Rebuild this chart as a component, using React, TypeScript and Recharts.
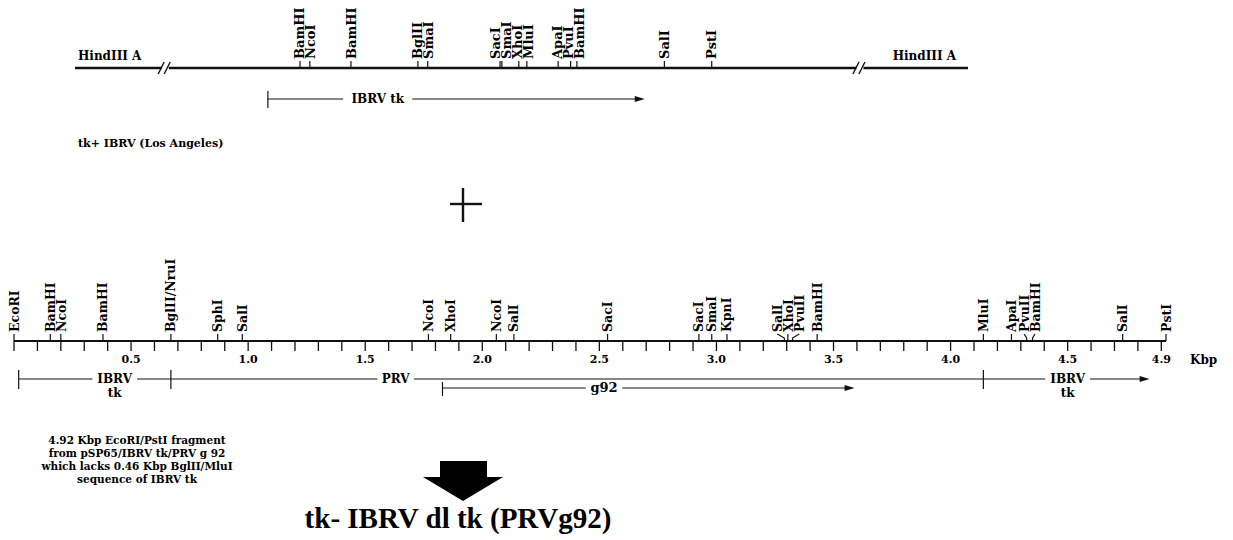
import React from 'react';
import { ComposedChart, XAxis, YAxis, Scatter, ReferenceLine, Customized } from 'recharts';

const W = 1233;
const H = 540;

// ---------------- data ----------------
// Top map: HindIII A fragment of tk+ IBRV (positions in % along the drawn fragment)
const TOP_SITE_NAMES = ['BamHI', 'NcoI', 'BamHI', 'BglII', 'SmaI', 'SacI', 'SmaI', 'XhoI', 'MluI', 'ApaI', 'PvuI', 'BamHI', 'SalI', 'PstI'];
const TOP_SITE_POS = [25.2, 26.3, 30.9, 38.4, 39.5, 47.6, 47.8, 49.7, 50.6, 54.1, 55.5, 56.2, 66.0, 71.3];
const TOP_FRAGMENT = [0, 100];
const TOP_BREAKS = [10.1, 87.9];
const TOP_END_LABEL = 'HindIII A';
const TOP_TK_SPAN = [21.6, 63.8];
const TOP_TK_LABEL = 'IBRV tk';
const TOP_TK_LABEL_AT = 33.9;

// Bottom map: 4.92 Kbp EcoRI/PstI fragment (positions in Kbp)
const BOT_SITE_NAMES = ['EcoRI', 'BamHI', 'NcoI', 'BamHI', 'BglII/NruI', 'SphI', 'SalI', 'NcoI', 'XhoI', 'NcoI', 'SalI', 'SacI', 'SacI', 'SmaI', 'KpnI', 'SalI', 'XhoI', 'PvuII', 'BamHI', 'MluI', 'ApaI', 'PvuII', 'BamHI', 'SalI', 'PstI'];
const BOT_SITE_KBP = [0.0, 0.155, 0.2, 0.38, 0.67, 0.87, 0.975, 1.77, 1.865, 2.06, 2.135, 2.535, 2.925, 2.98, 3.045, 3.29, 3.305, 3.325, 3.43, 4.14, 4.26, 4.325, 4.35, 4.735, 4.92];
const FRAGMENT_KBP = 4.92;
const AXIS_MINOR_COUNT = 50; // ticks every 0.1 Kbp from 0.0 to 4.9
const AXIS_LABELS = [0.5, 1.0, 1.5, 2.0, 2.5, 3.0, 3.5, 4.0, 4.5, 4.9];
const AXIS_UNIT = 'Kbp';

const FEATURE_NAMES = ['IBRV tk', 'PRV', 'IBRV tk', 'g92'];
const FEATURE_START = [0.02, 0.67, 4.14, 1.83];
const FEATURE_END = [0.67, 4.14, 4.85, 3.59];
const FEATURE_LABEL_AT = [0.43, 1.63, 4.5, 2.52];
const FEATURE_ARROW = [false, false, true, true];
const FEATURE_TRACK = [0, 0, 0, 1];

const PARENT_LABEL = 'tk+ IBRV (Los Angeles)';
const NOTE_LINES = ['4.92 Kbp EcoRI/PstI fragment', 'from pSP65/IBRV tk/PRV g 92', 'which lacks 0.46 Kbp BglII/MluI', 'sequence of IBRV tk'];
const RESULT_TITLE = 'tk- IBRV dl tk (PRVg92)';

// ---------------- layout ----------------
const SERIF = "'DejaVu Serif', serif";
const TITLE_SERIF = "'Liberation Serif', 'DejaVu Serif', serif";
const INK = '#111';
const TOP_LINE_Y = 68;
const TOP_TK_Y = 99;
const AXIS_Y = 341;
const TRACK_Y = [379, 388];
const TOP_X0 = 75;
const TOP_X1 = 968;
const BOT_X0 = 14;
const BOT_X1 = 1166;
const TOP_PX = (TOP_X1 - TOP_X0) / (TOP_FRAGMENT[1] - TOP_FRAGMENT[0]);
const BOT_PX = (BOT_X1 - BOT_X0) / FRAGMENT_KBP;
const TOP_DOMAIN = [TOP_FRAGMENT[0] - TOP_X0 / TOP_PX, TOP_FRAGMENT[0] + (W - TOP_X0) / TOP_PX];
const BOT_DOMAIN = [-BOT_X0 / BOT_PX, (W - BOT_X0) / BOT_PX];
const AXIS_CHART_H = 400;
const AXIS_H = 30;

const MINOR_TICKS = Array.from({ length: AXIS_MINOR_COUNT }, (_, i) => i / 10);

// spread crowded labels apart (returns px offsets of labels from their sites)
function spreadLabels(pos: number[], px: number, gap: number): number[] {
  const xs = pos.map((p) => p * px);
  const out = xs.slice();
  for (let it = 0; it < 300; it++) {
    let moved = false;
    for (let i = 1; i < out.length; i++) {
      const d = out[i] - out[i - 1];
      if (d < gap - 0.01) {
        const push = (gap - d) / 2;
        out[i - 1] -= push;
        out[i] += push;
        moved = true;
      }
    }
    if (!moved) break;
  }
  return out.map((v, i) => v - xs[i]);
}

const topDx = spreadLabels(TOP_SITE_POS, TOP_PX, 11);
const botDx = spreadLabels(BOT_SITE_KBP, BOT_PX, 11);

const topSiteData = TOP_SITE_POS.map((p, i) => ({ x: p, y: TOP_LINE_Y, name: TOP_SITE_NAMES[i], dx: topDx[i] }));
const botSiteData = BOT_SITE_KBP.map((p, i) => ({ x: p, y: 0, name: BOT_SITE_NAMES[i], dx: botDx[i] }));

const makeSiteShape = (tick: number, lift: number, fs: number, leaders: boolean) => (props: any) => {
  const { cx, cy, payload } = props;
  if (cx == null || cy == null) return <g />;
  const lx = cx + payload.dx;
  const bent = leaders && Math.abs(payload.dx) > 1.5;
  const d = bent
    ? `M${cx},${cy} L${cx},${cy - 3} L${lx},${cy - tick}`
    : `M${cx},${cy} L${cx},${cy - tick}`;
  return (
    <g>
      <path d={d} stroke={INK} strokeWidth={1.2} fill="none" />
      <text
        transform={`translate(${lx + fs * 0.36},${cy - lift}) rotate(-90)`}
        fontSize={fs}
        fontFamily={SERIF}
        fontWeight="bold"
        fill="#000"
      >
        {payload.name}
      </text>
    </g>
  );
};

const BreakShape = (props: any) => {
  const { cx, cy } = props;
  if (cx == null) return <g />;
  return (
    <g stroke={INK} strokeWidth={1.4}>
      <line x1={cx - 7} y1={cy + 6} x2={cx - 1} y2={cy - 6} />
      <line x1={cx - 1} y1={cy + 6} x2={cx + 5} y2={cy - 6} />
    </g>
  );
};

const EndLabelShape = (props: any) => {
  const { cx, cy, payload } = props;
  if (cx == null) return <g />;
  const start = payload.side === 'left';
  return (
    <text x={start ? cx + 3 : cx - 12} y={cy - 8} textAnchor={start ? 'start' : 'end'} fontSize={12} fontFamily={SERIF} fontWeight="bold" fill="#000">
      {payload.name}
    </text>
  );
};

const FeatureLabelShape = (props: any) => {
  const { cx, cy, payload } = props;
  if (cx == null) return <g />;
  const words = payload.stacked ? payload.name.split(' ') : [payload.name];
  return (
    <text textAnchor="middle" fontSize={payload.fs} fontFamily={SERIF} fontWeight="bold" fill="#000">
      {words.map((w: string, i: number) => (
        <tspan key={i} x={cx} y={cy + 4 + i * 14}>{w}</tspan>
      ))}
    </text>
  );
};

const arrowLine = (p: any) => (
  <g>
    <line x1={p.x1} y1={p.y1} x2={p.x2 - 6} y2={p.y2} stroke={INK} strokeWidth={1.1} />
    <polygon points={`${p.x2},${p.y2} ${p.x2 - 10},${p.y2 - 3} ${p.x2 - 10},${p.y2 + 3}`} fill={INK} />
  </g>
);

const labelHalfGap = (name: string, stacked: boolean, fs: number) => {
  const longest = stacked ? Math.max(...name.split(' ').map((w) => w.length)) : name.length;
  return (longest * 0.68 * fs) / 2 + 6;
};

const Annotations = () => (
  <g fontFamily={SERIF} fontWeight="bold" fill="#000">
    <text x={78} y={147} fontSize={11}>{PARENT_LABEL}</text>
    <g stroke={INK} strokeWidth={2.4}>
      <line x1={463} y1={188} x2={463} y2={222} />
      <line x1={450} y1={204} x2={482} y2={204} />
    </g>
    <text x={1190} y={364} fontSize={12}>{AXIS_UNIT}</text>
    <text textAnchor="middle" fontSize={10.5}>
      {NOTE_LINES.map((l, i) => (
        <tspan key={i} x={137} y={444 + i * 13}>{l}</tspan>
      ))}
    </text>
    <polygon points="440,461 487,461 487,477 503,477 463,501 423,477 440,477" fill="#000" />
    <text x={458} y={528} textAnchor="middle" fontSize={29} fontFamily={TITLE_SERIF} fontWeight="bold">
      {RESULT_TITLE}
    </text>
  </g>
);

const AxisTick = (props: any) => {
  const { x, y, payload } = props;
  const v = payload.value;
  const show = AXIS_LABELS.some((l) => Math.abs(l - v) < 1e-6);
  if (!show) return <g />;
  return (
    <text x={x} y={y + 10} textAnchor="middle" fontSize={11} fontFamily={SERIF} fontWeight="bold" fill="#000">
      {v.toFixed(1)}
    </text>
  );
};

export default function App() {
  // segments for the top fragment line (broken at the // marks)
  const topPieces: number[][] = [];
  const breakGap = 0.4;
  let from = TOP_FRAGMENT[0];
  TOP_BREAKS.forEach((b) => {
    topPieces.push([from, b - breakGap]);
    from = b + breakGap;
  });
  topPieces.push([from, TOP_FRAGMENT[1]]);

  const topTkGap = labelHalfGap(TOP_TK_LABEL, false, 12) / TOP_PX;

  const featureLabelData = FEATURE_NAMES.map((n, i) => ({
    x: FEATURE_LABEL_AT[i],
    y: TRACK_Y[FEATURE_TRACK[i]],
    name: n,
    stacked: n.includes(' '),
    fs: n === 'g92' ? 13 : 12,
  }));

  return (
    <div style={{ position: 'absolute', left: 0, top: 0, width: W, height: H, background: '#fff', overflow: 'hidden' }}>
      {/* Kbp axis with restriction sites of the 4.92 Kbp fragment */}
      <div style={{ position: 'absolute', left: 0, top: 0 }}>
        <ComposedChart width={W} height={AXIS_CHART_H} margin={{ top: 0, left: BOT_X0, right: W - BOT_X1, bottom: AXIS_CHART_H - AXIS_Y - AXIS_H }}>
          <XAxis
            xAxisId="k"
            dataKey="x"
            type="number"
            domain={[0, FRAGMENT_KBP]}
            ticks={MINOR_TICKS}
            interval={0}
            tickSize={10}
            tickMargin={2}
            height={AXIS_H}
            axisLine={{ stroke: INK, strokeWidth: 2 }}
            tickLine={{ stroke: INK, strokeWidth: 1.3 }}
            tick={<AxisTick />}
          />
          <YAxis yAxisId="s" dataKey="y" type="number" domain={[0, 1]} hide />
          <Scatter
            xAxisId="k"
            yAxisId="s"
            data={botSiteData}
            shape={makeSiteShape(7, 9, 12.5, true)}
            isAnimationActive={false}
          />
        </ComposedChart>
      </div>

      {/* top map, feature tracks and annotations */}
      <div style={{ position: 'absolute', left: 0, top: 0 }}>
        <ComposedChart width={W} height={H} margin={{ top: 0, left: 0, right: 0, bottom: 0 }}>
          <XAxis xAxisId="t" dataKey="x" type="number" domain={TOP_DOMAIN} allowDataOverflow hide />
          <XAxis xAxisId="b" dataKey="x" type="number" domain={BOT_DOMAIN} allowDataOverflow hide />
          <YAxis yAxisId="r" dataKey="y" type="number" domain={[0, H]} reversed allowDataOverflow hide />

          {topPieces.map((p, i) => (
            <ReferenceLine
              key={`tp${i}`}
              xAxisId="t"
              yAxisId="r"
              ifOverflow="visible"
              segment={[{ x: p[0], y: TOP_LINE_Y }, { x: p[1], y: TOP_LINE_Y }]}
              stroke={INK}
              strokeWidth={2.4}
            />
          ))}
          <Scatter
            xAxisId="t"
            yAxisId="r"
            data={TOP_BREAKS.map((b) => ({ x: b, y: TOP_LINE_Y }))}
            shape={BreakShape}
            isAnimationActive={false}
          />
          <Scatter
            xAxisId="t"
            yAxisId="r"
            data={[
              { x: TOP_FRAGMENT[0], y: TOP_LINE_Y, name: TOP_END_LABEL, side: 'left' },
              { x: TOP_FRAGMENT[1], y: TOP_LINE_Y, name: TOP_END_LABEL, side: 'right' },
            ]}
            shape={EndLabelShape}
            isAnimationActive={false}
          />
          <Scatter xAxisId="t" yAxisId="r" data={topSiteData} shape={makeSiteShape(7, 9, 13, false)} isAnimationActive={false} />

          {/* IBRV tk arrow under the top map */}
          <ReferenceLine
            xAxisId="t"
            yAxisId="r"
            ifOverflow="visible"
            segment={[{ x: TOP_TK_SPAN[0], y: TOP_TK_Y - 8 }, { x: TOP_TK_SPAN[0], y: TOP_TK_Y + 9 }]}
            stroke={INK}
            strokeWidth={1.2}
          />
          <ReferenceLine
            xAxisId="t"
            yAxisId="r"
            ifOverflow="visible"
            segment={[{ x: TOP_TK_SPAN[0], y: TOP_TK_Y }, { x: TOP_TK_LABEL_AT - topTkGap, y: TOP_TK_Y }]}
            stroke={INK}
            strokeWidth={1.1}
          />
          <ReferenceLine
            xAxisId="t"
            yAxisId="r"
            ifOverflow="visible"
            segment={[{ x: TOP_TK_LABEL_AT + topTkGap, y: TOP_TK_Y }, { x: TOP_TK_SPAN[1], y: TOP_TK_Y }]}
            shape={arrowLine}
          />
          <Scatter
            xAxisId="t"
            yAxisId="r"
            data={[{ x: TOP_TK_LABEL_AT, y: TOP_TK_Y, name: TOP_TK_LABEL, stacked: false, fs: 12 }]}
            shape={FeatureLabelShape}
            isAnimationActive={false}
          />

          {/* feature tracks below the Kbp axis */}
          {FEATURE_NAMES.map((n, i) => {
            const y = TRACK_Y[FEATURE_TRACK[i]];
            const stacked = n.includes(' ');
            const gap = labelHalfGap(n, stacked, 12) / BOT_PX;
            const barUp = FEATURE_TRACK[i] === 0 ? 9 : 6;
            const barDown = FEATURE_TRACK[i] === 0 ? 10 : 8;
            return (
              <React.Fragment key={`f${i}`}>
                <ReferenceLine
                  xAxisId="b"
                  yAxisId="r"
                  ifOverflow="visible"
                  segment={[{ x: FEATURE_START[i], y: y - barUp }, { x: FEATURE_START[i], y: y + barDown }]}
                  stroke={INK}
                  strokeWidth={1.2}
                />
                <ReferenceLine
                  xAxisId="b"
                  yAxisId="r"
                  ifOverflow="visible"
                  segment={[{ x: FEATURE_START[i], y }, { x: FEATURE_LABEL_AT[i] - gap, y }]}
                  stroke={INK}
                  strokeWidth={1.1}
                />
                <ReferenceLine
                  xAxisId="b"
                  yAxisId="r"
                  ifOverflow="visible"
                  segment={[{ x: FEATURE_LABEL_AT[i] + gap, y }, { x: FEATURE_END[i], y }]}
                  stroke={INK}
                  strokeWidth={1.1}
                  shape={FEATURE_ARROW[i] ? arrowLine : undefined}
                />
              </React.Fragment>
            );
          })}
          <Scatter xAxisId="b" yAxisId="r" data={featureLabelData} shape={FeatureLabelShape} isAnimationActive={false} />

          <Customized component={Annotations} />
        </ComposedChart>
      </div>
    </div>
  );
}
